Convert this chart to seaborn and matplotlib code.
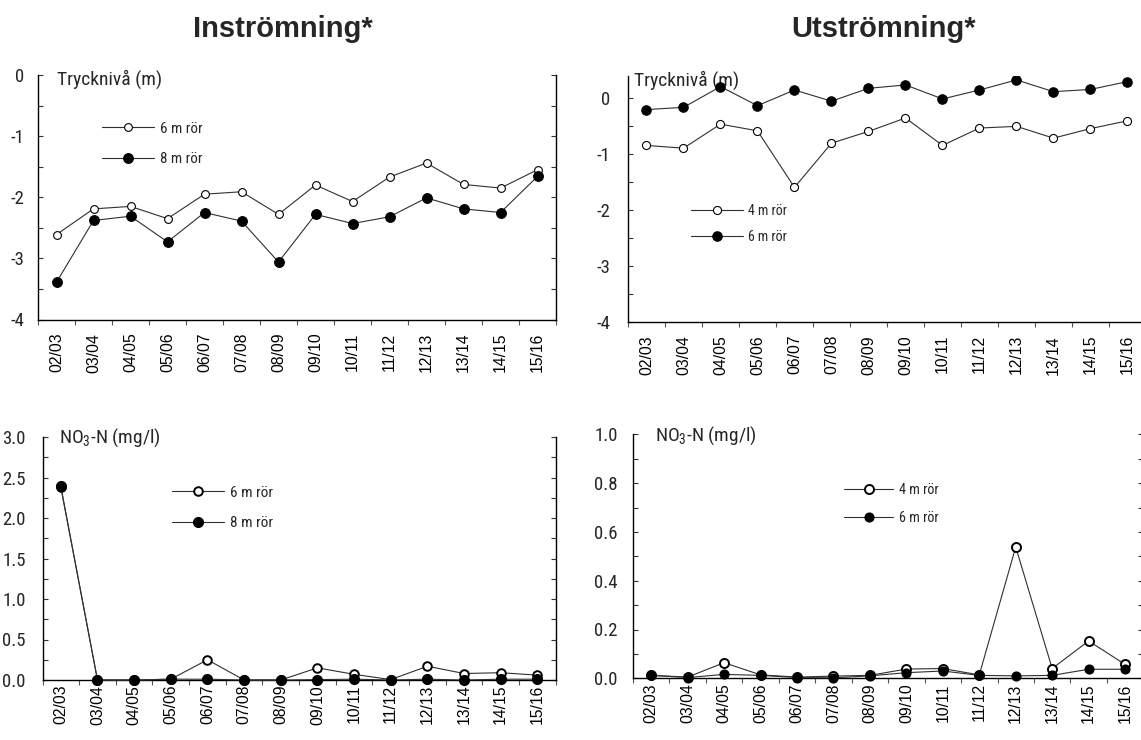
import numpy as np
import pandas as pd
import matplotlib
matplotlib.use("Agg")
import matplotlib.pyplot as plt
import matplotlib.font_manager as fm
from matplotlib.ticker import FixedLocator, MultipleLocator, FormatStrFormatter
import seaborn as sns

# ---------------- data ----------------
categories = ["02/03", "03/04", "04/05", "05/06", "06/07", "07/08", "08/09",
              "09/10", "10/11", "11/12", "12/13", "13/14", "14/15", "15/16"]

title_in = "Inströmning*"
title_ut = "Utströmning*"
label_tryck = "Trycknivå (m)"
label_no3 = "NO$_\\mathregular{3}$-N (mg/l)"
legend_in = ["6 m rör", "8 m rör"]
legend_ut = ["4 m rör", "6 m rör"]

in_tryck_6m = [-2.61, -2.19, -2.15, -2.35, -1.95, -1.91, -2.28, -1.80, -2.07,
               -1.67, -1.44, -1.79, -1.85, -1.55]
in_tryck_8m = [-3.39, -2.38, -2.31, -2.73, -2.25, -2.39, -3.06, -2.28, -2.43,
               -2.32, -2.01, -2.19, -2.25, -1.66]

ut_tryck_4m = [-0.85, -0.90, -0.47, -0.59, -1.60, -0.81, -0.60, -0.36, -0.85,
               -0.54, -0.51, -0.72, -0.55, -0.41]
ut_tryck_6m = [-0.21, -0.17, 0.20, -0.14, 0.14, -0.06, 0.17, 0.23, -0.02,
               0.14, 0.32, 0.11, 0.15, 0.29]

in_no3_6m = [2.38, 0.0, 0.0, 0.01, 0.25, 0.0, 0.0, 0.15, 0.07, 0.005,
             0.17, 0.08, 0.09, 0.06]
in_no3_8m = [2.39, 0.0, 0.0, 0.01, 0.01, 0.0, 0.0, 0.005, 0.01, 0.0,
             0.01, 0.0, 0.01, 0.01]

ut_no3_4m = [0.012, 0.005, 0.064, 0.014, 0.005, 0.009, 0.012, 0.038, 0.040,
             0.014, 0.538, 0.040, 0.153, 0.057]
ut_no3_6m = [0.012, 0.003, 0.016, 0.012, 0.003, 0.002, 0.010, 0.023, 0.030,
             0.012, 0.010, 0.012, 0.037, 0.037]

tryck_yticks = [-4, -3, -2, -1, 0]
no3_in_yticks = [0.0, 0.5, 1.0, 1.5, 2.0, 2.5, 3.0]
no3_ut_yticks = [0.0, 0.2, 0.4, 0.6, 0.8, 1.0]

# ---------------- style ----------------
sns.set_theme(style="ticks")
names = {f.name for f in fm.fontManager.ttflist}
NARROW = next((n for n in ["Liberation Sans Narrow", "Roboto Condensed",
                           "Open Sans Condensed"] if n in names), "Liberation Sans")
plt.rcParams["font.family"] = ["Liberation Sans", "DejaVu Sans"]
plt.rcParams["axes.unicode_minus"] = False
plt.rcParams["mathtext.fontset"] = "custom"
plt.rcParams["mathtext.rm"] = NARROW

W, H = 1141, 740
fig = plt.figure(figsize=(W / 100, H / 100), dpi=100)
fig.patch.set_facecolor("white")

positions = np.arange(len(categories))


def px_rect(l, r, t, b):
    return [l / W, 1 - b / H, (r - l) / W, (b - t) / H]


def panel(rect, open_vals, filled_vals, labels, ylim, yticks, minor, fmt,
          ypad, xpad, ms_open, ms_fill, mew_open, clip, txt, txt_xy,
          leg_xy, leg_fs, leg_len, leg_space):
    ax = fig.add_axes(rect)
    df = pd.DataFrame({"pos": positions, "open": open_vals, "filled": filled_vals})
    sns.lineplot(data=df, x="pos", y="open", ax=ax, color="#303030",
                 linewidth=0.8, marker="o", markersize=ms_open,
                 markerfacecolor="white", markeredgecolor="black",
                 markeredgewidth=mew_open, label=labels[0], legend=False,
                 clip_on=clip, zorder=3)
    sns.lineplot(data=df, x="pos", y="filled", ax=ax, color="#303030",
                 linewidth=0.8, marker="o", markersize=ms_fill,
                 markerfacecolor="black", markeredgecolor="black",
                 markeredgewidth=0.8, label=labels[1], legend=False,
                 clip_on=clip, zorder=4)
    ax.set_xlabel("")
    ax.set_ylabel("")
    ax.set_facecolor("white")
    ax.set_xlim(-0.5, len(categories) - 0.5)
    ax.set_ylim(*ylim)
    ax.set_xticks(positions)
    ax.set_xticklabels(categories, rotation=90, fontsize=11.3)
    ax.xaxis.set_minor_locator(FixedLocator(np.arange(-0.5, len(categories), 1.0)))
    ax.tick_params(axis="x", which="major", length=0, pad=xpad, colors="black")
    ax.tick_params(axis="x", which="minor", direction="out", length=3.5,
                   width=0.8, bottom=True, top=False, color="#555555")
    ax.yaxis.set_major_locator(FixedLocator(yticks))
    ax.yaxis.set_minor_locator(MultipleLocator(minor))
    ax.yaxis.set_major_formatter(FormatStrFormatter(fmt))
    ax.tick_params(axis="y", which="both", direction="in", left=True,
                   right=True, length=3.5, width=0.8, color="#333333",
                   pad=ypad)
    for lab in ax.get_yticklabels():
        lab.set_fontfamily(NARROW)
        lab.set_fontsize(13.5)
    for s in ["left", "right", "bottom"]:
        ax.spines[s].set_color("black")
        ax.spines[s].set_linewidth(1.0)
    ax.spines["top"].set_visible(False)
    ax.text(txt_xy[0], txt_xy[1], txt, transform=ax.transAxes, ha="left",
            va="center", fontsize=14, fontfamily=NARROW, zorder=2)
    handles = ax.get_lines()[:2]
    ax.legend(handles, labels, loc="center left", bbox_to_anchor=leg_xy,
              frameon=False, borderpad=0, borderaxespad=0,
              handlelength=leg_len, handletextpad=0.4,
              labelspacing=leg_space, prop={"family": NARROW, "size": leg_fs},
              numpoints=1)
    return ax


# top-left: Inströmning trycknivå
panel(px_rect(38, 556, 75, 319.5), in_tryck_6m, in_tryck_8m, legend_in,
      (-4, 0), tryck_yticks, 0.5, "%d", 10, 9.5, 5.6, 7.0, 0.8, True,
      label_tryck, (0.037, 0.984), (0.123, 0.718), 10.8, 3.5, 1.1)

# top-right: Utströmning trycknivå
panel(px_rect(628, 1146, 76, 321.7), ut_tryck_4m, ut_tryck_6m, legend_ut,
      (-4, 0.39), tryck_yticks, 0.5, "%d", 12.5, 9.5, 5.8, 6.8, 0.8, True,
      label_tryck, (0.011, 0.984), (0.122, 0.398), 10, 3.7, 0.85)

# bottom-left: Inströmning NO3-N
panel(px_rect(42.5, 555.7, 437, 680), in_no3_6m, in_no3_8m, legend_in,
      (0, 3), no3_in_yticks, 0.25, "%.1f", 12, 3.5, 6.2, 7.2, 1.4, False,
      label_no3, (0.032, 0.998), (0.252, 0.708), 11, 3.4, 1.1)

# bottom-right: Utströmning NO3-N
panel(px_rect(633, 1143.3, 434.3, 678.3), ut_no3_4m, ut_no3_6m, legend_ut,
      (0, 1), no3_ut_yticks, 0.1, "%.1f", 11, 3.5, 6.5, 6.5, 1.4, False,
      label_no3, (0.043, 0.993), (0.413, 0.715), 10.2, 3.5, 0.95)

fig.text(283 / W, 1 - 29 / H, title_in, ha="center", va="center",
         fontsize=21, fontweight="bold")
fig.text(884 / W, 1 - 29 / H, title_ut, ha="center", va="center",
         fontsize=21, fontweight="bold")

fig.savefig("out.png", dpi=100, facecolor="white")
